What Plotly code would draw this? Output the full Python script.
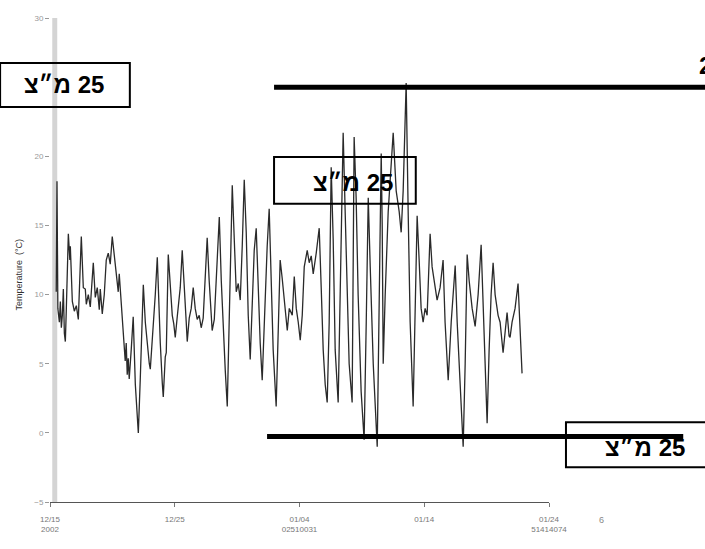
import plotly.graph_objects as go

# Days since 12/15/2002 and water temperature (°C)
days = [0.50, 0.56, 0.63, 0.75, 0.83, 0.91, 0.99, 1.07, 1.15, 1.23, 1.31, 1.47, 1.59, 1.63, 1.79, 1.95,
        2.11, 2.27, 2.51, 2.67, 2.83, 2.91, 3.07, 3.23, 3.47, 3.63, 3.79, 3.95, 4.03, 4.19, 4.35, 4.51,
        4.67, 4.83, 4.99, 5.15, 5.31, 5.47, 5.55, 5.71, 5.87, 6.03, 6.11, 6.19, 6.27, 6.35, 6.51, 6.67,
        6.84, 7.00, 7.08, 7.24, 7.40, 7.48, 7.64, 7.80, 7.96, 8.04, 8.20, 8.44, 8.60, 8.68, 8.84, 9.00,
        9.08, 9.24, 9.32, 9.48, 9.64, 9.80, 9.92, 10.04, 10.20, 10.44, 10.60, 10.76, 10.92, 11.00, 11.16,
        11.32, 11.48, 11.64, 11.80, 11.96, 12.12, 12.28, 12.44, 12.60, 12.76, 12.92, 13.00, 13.17, 13.33,
        13.57, 13.73, 13.89, 14.05, 14.21, 14.37, 14.61, 14.77, 14.93, 15.09, 15.25, 15.41, 15.57, 15.73,
        15.89, 16.05, 16.21, 16.37, 16.53, 16.69, 16.85, 17.01, 17.17, 17.41, 17.57, 17.73, 17.89, 18.13,
        18.29, 18.45, 18.61, 18.77, 19.02, 19.18, 19.42, 19.58, 19.74, 19.90, 20.06, 20.22, 20.38, 20.62,
        20.78, 20.94, 21.10, 21.34, 21.58, 21.74, 21.90, 22.06, 22.22, 22.38, 22.54, 22.70, 22.86, 23.10,
        23.26, 23.50, 23.66, 23.82, 23.98, 24.22, 24.38, 24.54, 24.70, 24.94, 25.18, 25.35, 25.51, 25.67,
        25.91, 26.23, 26.39, 26.55, 26.63, 26.71, 26.87, 27.11, 27.51, 27.75, 27.99, 28.15, 28.31, 28.55,
        28.71, 28.87, 29.11, 29.27, 29.43, 29.59, 29.75, 29.91, 30.07, 30.23, 30.47, 30.63, 30.87, 31.03,
        31.27, 31.51, 31.67, 31.92, 32.16, 32.48, 32.64, 32.88, 33.12, 33.28, 33.44, 33.60, 33.84, 34.08,
        34.32, 34.56, 34.72, 34.88, 35.04, 35.20, 35.36, 35.52, 35.68, 35.92, 36.08, 36.32, 36.48, 36.64,
        36.80, 36.88, 37.04, 37.28, 37.52, 37.68, 37.84]
temps = [10.2, 18.2, 9.0, 8.0, 9.5, 7.6, 8.5, 10.4, 7.2, 6.6, 9.0, 14.4, 12.5, 13.5, 9.5, 8.8,
         9.2, 8.2, 14.2, 10.5, 10.4, 9.3, 10.0, 9.1, 12.3, 9.8, 10.5, 8.9, 10.4, 8.6, 10.0, 12.5,
         13.0, 12.2, 14.2, 12.8, 11.8, 10.2, 11.5, 9.5, 7.2, 5.2, 6.5, 4.2, 5.4, 3.9, 6.0, 8.4,
         3.5, 1.0, 0.0, 4.0, 9.5, 10.7, 8.0, 6.2, 5.0, 4.6, 6.5, 10.0, 12.7, 10.5, 6.5, 3.6,
         2.6, 5.5, 5.8, 12.9, 10.2, 8.5, 7.9, 6.9, 8.4, 10.5, 13.2, 10.0, 8.0, 6.6, 8.3,
         9.0, 10.5, 9.0, 8.2, 8.5, 7.6, 8.3, 11.5, 14.1, 11.0, 8.6, 7.4, 8.2, 11.0,
         15.6, 11.0, 7.5, 4.5, 1.9, 8.5, 17.9, 14.0, 10.2, 10.8, 9.6, 13.5, 18.3, 14.5,
         8.5, 5.3, 9.0, 13.2, 14.8, 10.5, 6.5, 3.8, 8.0, 13.5, 16.2, 11.5, 6.0, 1.9,
         7.0, 12.5, 11.2, 9.5, 7.4, 9.0, 8.5, 11.3, 9.0, 8.0, 6.7, 8.5, 12.0, 13.2,
         12.3, 12.8, 11.5, 13.0, 14.8, 10.5, 6.0, 3.5, 2.2, 8.0, 19.2, 14.0, 6.0, 2.2,
         9.0, 21.7, 16.0, 10.0, 5.0, 2.2, 21.4, 17.0, 10.0, 3.0, -0.5, 8.0, 17.0, 12.0,
         5.0, -1.0, 10.0, 20.2, 15.0, 5.0, 10.0, 16.0, 21.7, 17.5, 16.0, 14.5, 17.5, 25.3,
         16.0, 8.0, 1.9, 8.0, 15.7, 12.5, 9.0, 8.0, 9.0, 8.5, 14.4, 12.0, 10.5, 9.6,
         10.5, 12.5, 8.0, 3.8, 8.0, 12.1, 8.0, 3.0, -1.0, 5.0, 12.9, 11.0, 9.0, 7.7,
         10.0, 13.6, 9.0, 4.0, 0.7, 6.0, 10.0, 12.3, 10.0, 8.5, 8.0, 5.8, 7.5, 8.7,
         7.0, 6.9, 8.0, 9.0, 10.8, 7.0, 4.3]

tick_days = [0, 10, 20, 30, 40]
tick_labels = ["12/15<br>2002", "12/25", "01/04<br>02510031", "01/14", "01/24<br>51414074"]
y_ticks = [-5, 0, 5, 10, 15, 20, 30]
label_text = "מ״צ\u200e 25"
label_text_cut = "25 מ״צ"

fig = go.Figure()
fig.add_trace(go.Scatter(x=days, y=temps, mode="lines",
                         line=dict(color="#2a2a2a", width=1.3), showlegend=False))

shapes = [
    # light grey vertical axis band
    dict(type="rect", xref="x", yref="y", x0=0.18, x1=0.58, y0=-5, y1=30,
         fillcolor="#d4d4d4", line=dict(width=0), layer="below"),
    # thick reference lines
    dict(type="line", xref="paper", yref="y", x0=0.449, x1=1.32, y0=25, y1=25,
         line=dict(color="black", width=5)),
    dict(type="line", xref="paper", yref="y", x0=0.435, x1=1.269, y0=-0.27, y1=-0.27,
         line=dict(color="black", width=5)),
    # label boxes
    dict(type="rect", xref="paper", yref="paper", x0=-0.100, x1=0.160, y0=0.816, y1=0.907,
         line=dict(color="black", width=2), fillcolor="rgba(0,0,0,0)"),
    dict(type="rect", xref="paper", yref="paper", x0=0.449, x1=0.733, y0=0.616, y1=0.713,
         line=dict(color="black", width=2), fillcolor="rgba(0,0,0,0)"),
    dict(type="rect", xref="paper", yref="paper", x0=1.034, x1=1.325, y0=0.072, y1=0.165,
         line=dict(color="black", width=2), fillcolor="rgba(0,0,0,0)"),
]

lab_font = dict(family="Liberation Sans, Arial, DejaVu Sans", size=24, color="black")
annotations = [
    dict(xref="paper", yref="paper", x=0.028, y=0.862, text="<b>" + label_text + "</b>",
         showarrow=False, xanchor="center", yanchor="middle", font=lab_font),
    dict(xref="paper", yref="paper", x=0.607, y=0.661, text="<b>" + label_text + "</b>",
         showarrow=False, xanchor="center", yanchor="middle", font=lab_font),
    dict(xref="paper", yref="paper", x=1.192, y=0.112, text="<b>" + label_text + "</b>",
         showarrow=False, xanchor="center", yanchor="middle", font=lab_font),
    dict(xref="paper", yref="paper", x=1.297, y=0.902, text="<b>" + label_text_cut + "</b>",
         showarrow=False, xanchor="left", yanchor="middle", font=lab_font),
    dict(xref="paper", yref="paper", x=-0.064, y=0.47, text="Temperature  (°C)", textangle=-90,
         showarrow=False, xanchor="center", yanchor="middle",
         font=dict(family="Liberation Sans, Arial", size=9, color="#333333")),
    dict(xref="paper", yref="paper", x=1.106, y=-0.037, text="6",
         showarrow=False, xanchor="center", yanchor="middle",
         font=dict(family="Liberation Sans, Arial", size=9, color="#888888")),
]

fig.update_layout(
    width=705, height=549,
    margin=dict(l=50, r=156, t=18, b=47),
    paper_bgcolor="white", plot_bgcolor="white",
    shapes=shapes, annotations=annotations,
    xaxis=dict(range=[0, 40], tickvals=tick_days, ticktext=tick_labels,
               showgrid=False, zeroline=False, showline=True, linecolor="#555555", linewidth=1,
               ticks="outside", ticklen=4, tickcolor="#777777", ticklabelstandoff=5,
               tickfont=dict(family="Liberation Sans, Arial", size=8, color="#777777")),
    yaxis=dict(range=[-5, 30], tickvals=y_ticks,
               showgrid=False, zeroline=False, showline=False,
               ticks="outside", ticklen=4, tickcolor="#999999",
               tickfont=dict(family="Liberation Sans, Arial", size=8, color="#999999")),
)

fig.write_html("out.html", config={"displayModeBar": False},
               post_script="document.body.style.margin='0';document.body.style.overflow='hidden';")
